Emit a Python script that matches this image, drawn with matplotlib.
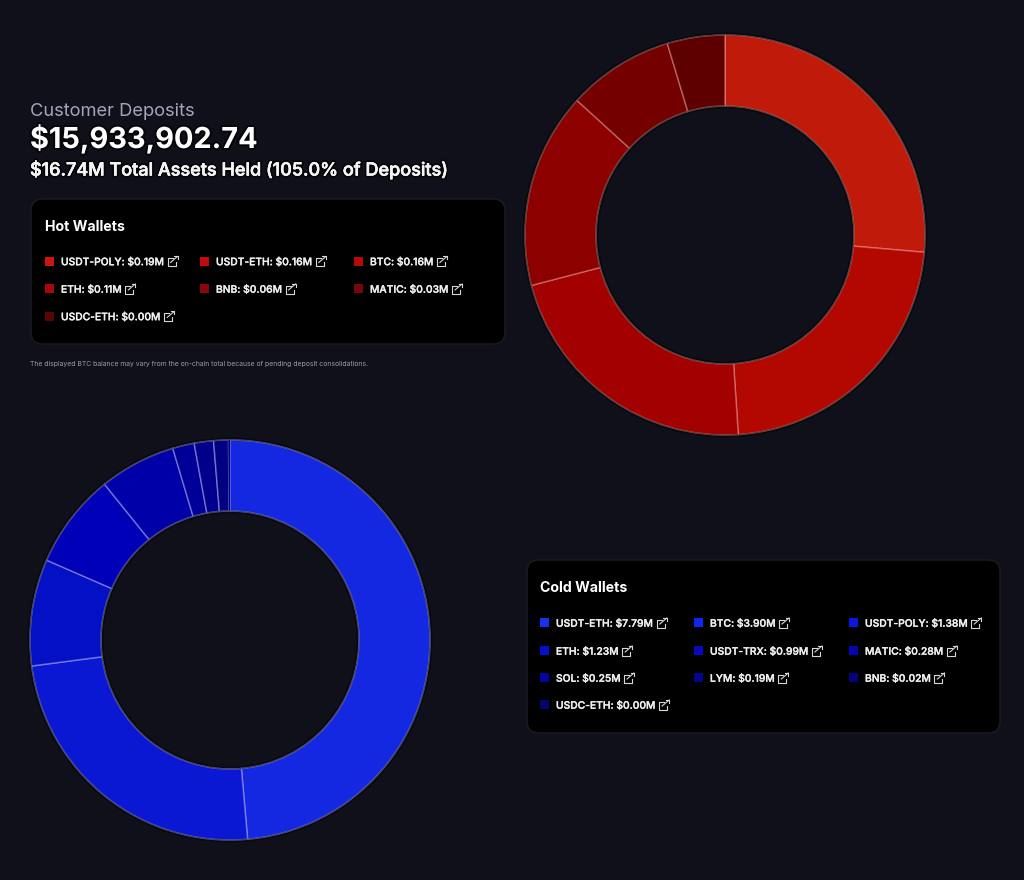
import matplotlib
matplotlib.use('Agg')
import matplotlib.pyplot as plt
import matplotlib.patheffects as pe
from matplotlib.patches import FancyBboxPatch, Rectangle, Circle

plt.rcParams['font.family'] = ['Inter', 'DejaVu Sans']

# hot wallets
hot_names = ['USDT-POLY', 'USDT-ETH', 'BTC', 'ETH', 'BNB', 'MATIC', 'USDC-ETH']
hot_values = [0.187, 0.160, 0.156, 0.112, 0.061, 0.033, 0.00]
hot_colors = ['#c01a0a', '#b30800', '#a30000', '#8c0000', '#740000', '#5f0000', '#4a0000']
hot_swatches = ['#d0140c', '#c4080c', '#b80808', '#a60808', '#8a0808', '#780808', '#5a0404']

# cold wallets
cold_names = ['USDT-ETH', 'BTC', 'USDT-POLY', 'ETH', 'USDT-TRX', 'MATIC', 'SOL', 'LYM', 'BNB', 'USDC-ETH']
cold_values = [7.79, 3.90, 1.38, 1.23, 0.99, 0.28, 0.25, 0.19, 0.02, 0.00]
cold_colors = ['#1428e2', '#0a18d4', '#0410c4', '#0000b8', '#0000a8', '#000098', '#00008c',
               '#000080', '#000070', '#000060']
cold_swatches = ['#1432f0', '#0c28ee', '#0818e0', '#0410d0', '#0808c0', '#0404b0', '#0404a0',
                 '#04048c', '#040478', '#04046a']

BG = '#0f1019'
W, H = 1024, 880
HOLE = 0.645

fig = plt.figure(figsize=(W / 100, H / 100), dpi=100, facecolor=BG)
page = fig.add_axes([0, 0, 1, 1])
page.set_xlim(0, W)
page.set_ylim(H, 0)
page.axis('off')


def donut(cx, cy, values, colors, edge, rim):
    r = 206
    ax = fig.add_axes([(cx - r) / W, 1 - (cy + r) / H, 2 * r / W, 2 * r / H])
    wedges, _ = ax.pie(values, colors=colors, startangle=90, counterclock=False, radius=1,
                       wedgeprops={'width': 1 - HOLE, 'edgecolor': edge, 'linewidth': 1.1, 'zorder': 3})
    # slivers too thin to see, no separators for them
    for w, v in zip(wedges, values):
        if v / sum(values) < 0.002:
            w.set_linewidth(0)
    # dark glow under the ring, dim rim on top of it
    for rad in (1, HOLE):
        ax.add_patch(Circle((0, 0), rad, fill=False, edgecolor='#000000', alpha=0.4, lw=3.5, zorder=1))
        ax.add_patch(Circle((0, 0), rad, fill=False, edgecolor=rim, lw=0.6, zorder=4))
    ax.set_xlim(-1.03, 1.03)
    ax.set_ylim(-1.03, 1.03)
    ax.axis('off')


def link_icon(x, y):
    # little "open in new tab" box with arrow
    col = '#d8d8d8'
    page.plot([x + 5, x, x, x + 8, x + 8], [y - 3, y - 3, y + 5, y + 5, y + 1], color=col, lw=0.8)
    page.plot([x + 3, x + 10], [y + 1, y - 5], color=col, lw=0.8)
    page.plot([x + 6.5, x + 10, x + 10], [y - 5, y - 5, y - 2], color=col, lw=0.8)


def wallet_panel(x0, y0, x1, y1, title, names, values, swatches, col_x, row_y):
    box = FancyBboxPatch((x0 + 12, y0 + 12), x1 - x0 - 24, y1 - y0 - 24,
                         boxstyle='round,pad=12,rounding_size=12',
                         facecolor='#000000', edgecolor='#1c1c24', linewidth=1)
    page.add_patch(box)
    page.text(col_x[0], y0 + 28, title, color='white', fontsize=10.2, fontweight='bold', va='center')
    renderer = fig.canvas.get_renderer()
    for i, name in enumerate(names):
        x = col_x[i % 3]
        y = row_y[i // 3]
        page.add_patch(Rectangle((x, y - 4.5), 9, 9, facecolor=swatches[i], edgecolor='none'))
        label = page.text(x + 16, y + 0.7, f'{name}: ${values[i]:.2f}M', color='#f0f0f0',
                          fontsize=7.4, fontweight='medium', va='center',
                          path_effects=[pe.withStroke(linewidth=0.25, foreground='#f0f0f0')])
        bb = label.get_window_extent(renderer)
        link_icon(bb.x1 + 3, y)


halo = [pe.withStroke(linewidth=3, foreground='#000000', alpha=0.6)]
page.text(30, 111, 'Customer Deposits', color='#a4a4ba', fontsize=13.2, va='center')
page.text(30, 139, '$15,933,902.74', color='white', fontsize=20.8, fontweight='bold', va='center', path_effects=halo)
page.text(30, 170, '$16.74M Total Assets Held (105.0% of Deposits)', color='#f4f4f4', fontsize=13,
          fontweight='medium', va='center',
          path_effects=halo + [pe.withStroke(linewidth=0.4, foreground='#f4f4f4')])
page.text(30, 364, 'The displayed BTC balance may vary from the on-chain total because of pending deposit consolidations.',
          color='#9a9aa4', fontsize=4.95, va='center')

wallet_panel(31, 199, 505, 344, 'Hot Wallets', hot_names, hot_values, hot_swatches,
             [45, 200, 354], [261.5, 289, 316.5])
wallet_panel(527, 560, 1000, 733, 'Cold Wallets', cold_names, cold_values, cold_swatches,
             [540, 694, 849], [623, 651, 678, 705])

donut(725, 235, hot_values, hot_colors, (1, 0.72, 0.72, 0.4), '#4a3a38')
donut(230, 640, cold_values, cold_colors, (0.75, 0.75, 1, 0.45), '#3c3c5a')

fig.savefig('out.png', dpi=100, facecolor=BG)
